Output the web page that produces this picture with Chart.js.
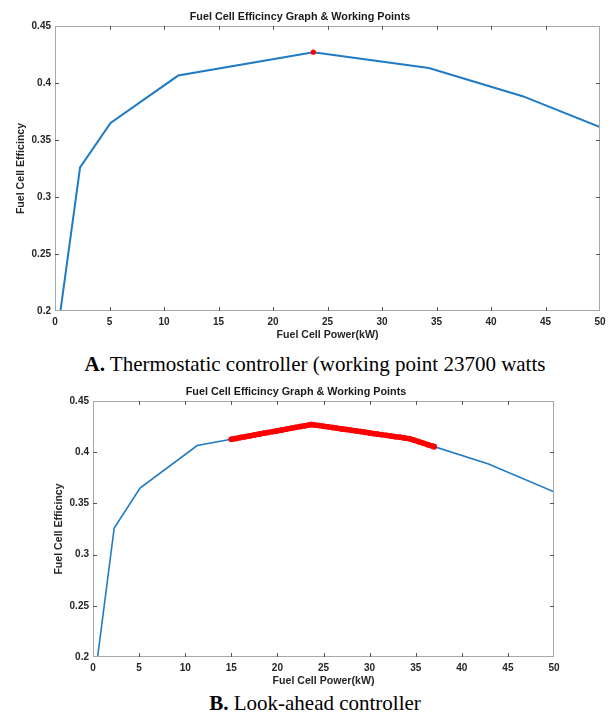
<!DOCTYPE html>
<html>
<head>
<meta charset="utf-8">
<script src="https://cdn.jsdelivr.net/npm/chart.js@4"></script>
<style>
  html, body { margin: 0; padding: 0; background: #fff; }
  body { width: 611px; height: 713px; position: relative; overflow: hidden; }
  .wrap { position: absolute; left: 0; width: 611px; }
  #wa { top: 0; height: 345px; }
  #wb { top: 375px; height: 316px; }
  .cap { position: absolute; left: 0; width: 630px; text-align: center; line-height: 24px;
         font-family: "Liberation Serif", "Times New Roman", serif; font-size: 21px; color: #000; white-space: nowrap; }
  #ca { top: 352px; }
  #cb { top: 691px; }
</style>
</head>
<body>
<div class="wrap" id="wa"><canvas id="chartA"></canvas></div>
<div class="cap" id="ca"><b>A.</b> Thermostatic controller (working point 23700 watts</div>
<div class="wrap" id="wb"><canvas id="chartB"></canvas></div>
<div class="cap" id="cb"><b>B.</b> Look-ahead controller</div>
<script>
// ---- data ----
const powerKW = [0.5, 2.3, 5.1, 11.3, 23.7, 34.3, 42.9, 50];
const efficiency = [0.200, 0.326, 0.365, 0.4065, 0.427, 0.4132, 0.3884, 0.3613];

const workPointA_kW = [23.7];
const workPointA_eff = [0.427];

// null marks the small gap in the working points near 31 kW
const workPointsB_kW = [15, 15.5, 16, 16.5, 17, 17.5, 18, 18.5, 19, 19.5, 20, 20.5, 21, 21.5, 22, 22.5, 23, 23.5, 23.7,
  24, 24.5, 25, 25.5, 26, 26.5, 27, 27.5, 28, 28.5, 29, 29.5, 30, 30.5, 30.9,
  31.0, 31.3, 31.8, 32.3, 32.8, 33.3, 33.8, 34.3, 34.8, 35.3, 35.8, 36.3, 36.8, 37];
const workPointsB_eff = [0.4126, 0.4134, 0.4143, 0.4151, 0.4159, 0.4167, 0.4176, 0.4184, 0.4192, 0.4201, 0.4209, 0.4217, 0.4225, 0.4234, 0.4242, 0.4250, 0.4258, 0.4267, 0.4270,
  0.4266, 0.4260, 0.4253, 0.4247, 0.4240, 0.4234, 0.4227, 0.4221, 0.4214, 0.4208, 0.4201, 0.4194, 0.4188, 0.4181, 0.4176,
  null, 0.4171, 0.4164, 0.4158, 0.4151, 0.4145, 0.4138, 0.4132, 0.4118, 0.4103, 0.4089, 0.4074, 0.4060, 0.4054];

const xTicks = [0, 5, 10, 15, 20, 25, 30, 35, 40, 45, 50];
const yTickLabels = ['0.2', '0.25', '0.3', '0.35', '0.4', '0.45'];

const chartTitle = 'Fuel Cell Efficincy Graph & Working Points';
const xTitle = 'Fuel Cell Power(kW)';
const yTitle = 'Fuel Cell Efficincy';

// ---- helpers ----
const pts = (xs, ys) => xs.map((x, i) => ({ x: x, y: ys[i] }));
const FONT = '"Liberation Sans", Arial, sans-serif';

const boxPlugin = {
  id: 'matlabBox',
  afterDatasetsDraw(chart) {
    const { ctx, chartArea: a, scales } = chart;
    ctx.save();
    ctx.strokeStyle = '#a8a8a8';
    ctx.lineWidth = 1;
    ctx.strokeRect(Math.round(a.left) + 0.5, Math.round(a.top) + 0.5,
      Math.round(a.right - a.left) - 1, Math.round(a.bottom - a.top) - 1);
    ctx.strokeStyle = '#555';
    const tl = 4;
    ctx.beginPath();
    scales.x.ticks.forEach(t => {
      const px = Math.round(scales.x.getPixelForValue(t.value)) + 0.5;
      if (t.value === scales.x.min || t.value === scales.x.max) return;
      ctx.moveTo(px, a.bottom); ctx.lineTo(px, a.bottom - tl);
      ctx.moveTo(px, a.top); ctx.lineTo(px, a.top + tl);
    });
    scales.y.ticks.forEach(t => {
      const py = Math.round(scales.y.getPixelForValue(t.value)) + 0.5;
      if (Math.abs(t.value - scales.y.min) < 1e-9 || Math.abs(t.value - scales.y.max) < 1e-9) return;
      ctx.moveTo(a.left, py); ctx.lineTo(a.left + tl, py);
      ctx.moveTo(a.right, py); ctx.lineTo(a.right - tl, py);
    });
    ctx.stroke();
    ctx.restore();
  }
};

function makeChart(id, redXs, redYs, redRadius, redLineW, padL, padR, lineW) {
  return new Chart(document.getElementById(id), {
    type: 'scatter',
    data: {
      datasets: [
        {
          data: pts(redXs, redYs),
          showLine: redLineW > 0,
          spanGaps: false,
          borderColor: '#ff0000',
          borderWidth: redLineW,
          borderCapStyle: 'round',
          borderJoinStyle: 'round',
          pointRadius: redRadius,
          pointHoverRadius: redRadius,
          pointBackgroundColor: '#ff0000',
          pointBorderWidth: 0,
          order: 0
        },
        {
          data: pts(powerKW, efficiency),
          showLine: true,
          borderColor: '#1f7bc4',
          borderWidth: lineW,
          pointRadius: 0,
          tension: 0,
          fill: false,
          order: 1
        }
      ]
    },
    options: {
      responsive: true,
      maintainAspectRatio: false,
      animation: false,
      events: [],
      layout: { padding: { left: padL, right: padR, top: 0, bottom: 0 } },
      plugins: {
        legend: { display: false },
        tooltip: { enabled: false },
        title: {
          display: true, text: chartTitle, color: '#1a1a1a',
          font: { family: FONT, size: 10.8, weight: 'bold', lineHeight: 1.2 },
          padding: { top: 11, bottom: 2 }
        }
      },
      scales: {
        x: {
          type: 'linear', min: 0, max: 50,
          afterBuildTicks: s => { s.ticks = xTicks.map(v => ({ value: v })); },
          afterFit: s => { s.height = 34; },
          grid: { display: false, drawTicks: false },
          border: { display: false },
          ticks: { color: '#262626', padding: 5, maxRotation: 0, autoSkip: false,
                   font: { family: FONT, size: 10, weight: 'bold' },
                   callback: v => String(v) },
          title: { display: true, text: xTitle, color: '#262626',
                   font: { family: FONT, size: 10.6, weight: 'bold', lineHeight: 1.2 },
                   padding: { top: 0, bottom: 4 } }
        },
        y: {
          type: 'linear', min: 0.2, max: 0.45,
          afterBuildTicks: s => { s.ticks = yTickLabels.map(l => ({ value: parseFloat(l) })); },
          afterFit: s => { s.width = 55; },
          grid: { display: false, drawTicks: false },
          border: { display: false },
          ticks: { color: '#262626', padding: 4, autoSkip: false,
                   font: { family: FONT, size: 10, weight: 'bold' },
                   callback: (v) => yTickLabels.find(l => Math.abs(parseFloat(l) - v) < 1e-9) || '' },
          title: { display: true, text: yTitle, color: '#262626',
                   font: { family: FONT, size: 10.6, weight: 'bold', lineHeight: 1.2 },
                   padding: { top: 15, bottom: 0 } }
        }
      }
    },
    plugins: [boxPlugin]
  });
}

makeChart('chartA', workPointA_kW, workPointA_eff, 2.6, 0, 0, 11, 2);
makeChart('chartB', workPointsB_kW, workPointsB_eff, 2.8, 5.5, 38, 57, 1.6);
</script>
</body>
</html>
